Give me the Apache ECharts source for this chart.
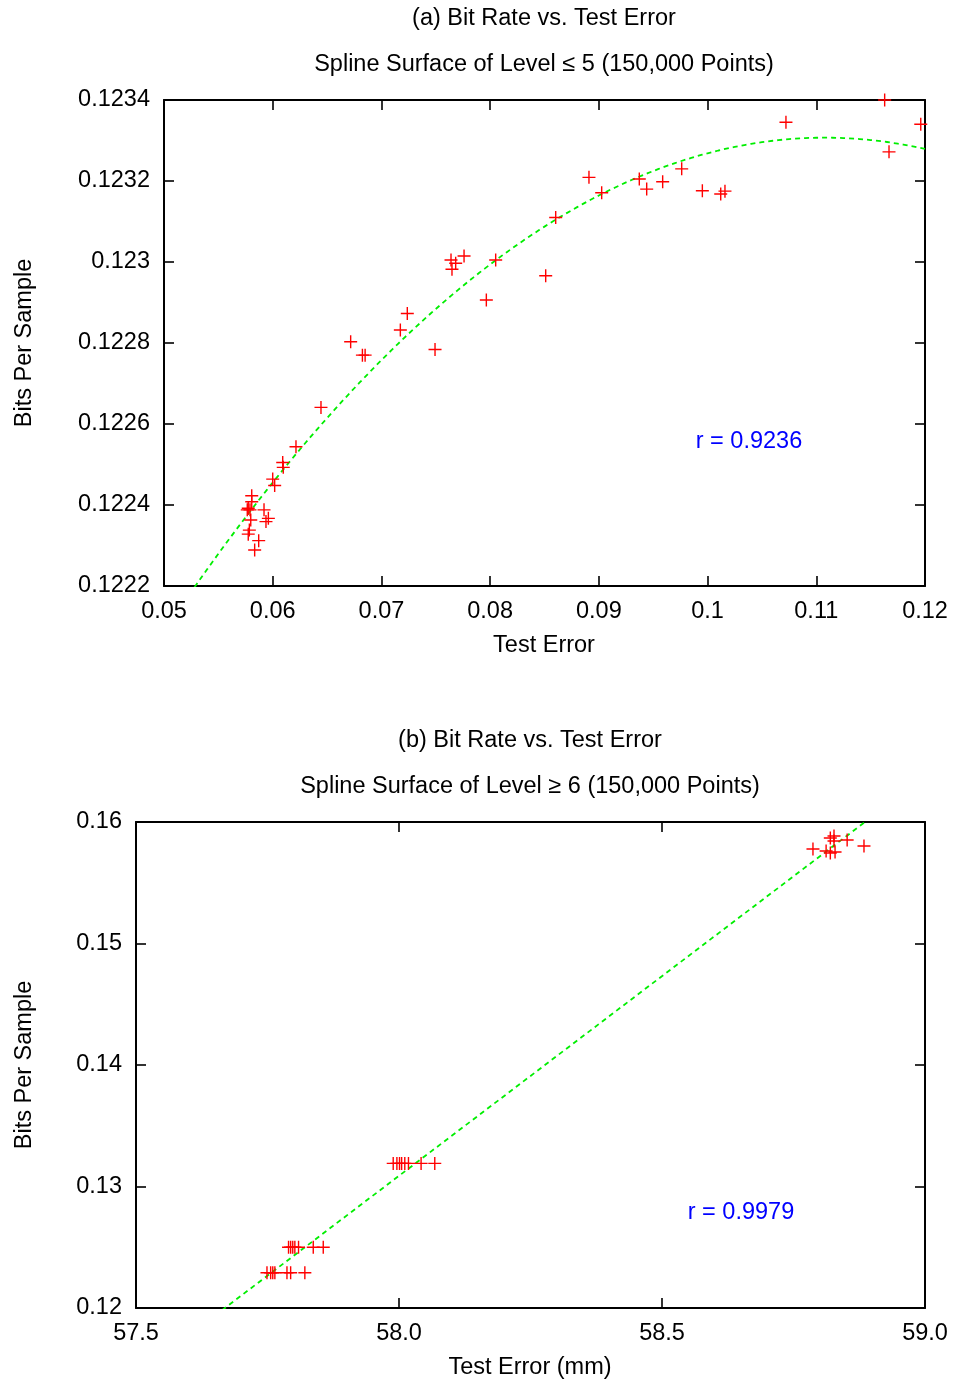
<!DOCTYPE html>
<html>
<head>
<meta charset="utf-8">
<script src="https://cdn.jsdelivr.net/npm/echarts@6/dist/echarts.min.js"></script>
<style>
  html, body { margin: 0; padding: 0; background: #fff; }
  #chart { width: 956px; height: 1381px; }
</style>
</head>
<body>
<div id="chart"></div>
<script>
// Panel (a): spline surfaces of level <= 5
const errA = [0.11629, 0.11961, 0.10721, 0.11669, 0.08909, 0.09026, 0.08603, 0.08511,
  0.09372, 0.09440, 0.09587, 0.09762, 0.09952, 0.10121, 0.10160,
  0.07640, 0.07683, 0.07649, 0.07760, 0.08051, 0.07965,
  0.07238, 0.07174, 0.07493, 0.06717, 0.06850, 0.06825,
  0.06444, 0.06214, 0.06092, 0.06097, 0.06000, 0.06018,
  0.05807, 0.05807, 0.05775, 0.05791, 0.05766, 0.05798, 0.05785, 0.05775,
  0.05920, 0.05960, 0.05938, 0.05871, 0.05834];
const bitsA = [0.12340, 0.12334, 0.123345, 0.123272, 0.123209, 0.123171, 0.123110, 0.122966,
  0.123205, 0.123180, 0.123198, 0.123230, 0.123176, 0.123168, 0.123175,
  0.123005, 0.122997, 0.122982, 0.123015, 0.123005, 0.122906,
  0.122873, 0.122832, 0.122784, 0.122803, 0.122770, 0.122770,
  0.122641, 0.122544, 0.122505, 0.122493, 0.122464, 0.122448,
  0.122423, 0.122408, 0.122392, 0.122388, 0.122388, 0.122363, 0.122338, 0.122328,
  0.122388, 0.122367, 0.122359, 0.122312, 0.122289];
// quadratic trend: bits = peak + curv * (err - vertex)^2
const fitA = { vertex: 0.1108, peak: 0.123307, curv: -0.33 };
const rA = 'r = 0.9236';

// Panel (b): spline surfaces of level >= 6
const errB = [58.787, 58.812, 58.820, 58.827, 58.827, 58.820, 58.829, 58.852, 58.884,
  57.989, 57.996, 58.001, 58.005, 58.011, 58.018, 58.042, 58.068,
  57.790, 57.794, 57.798, 57.802, 57.809, 57.837, 57.856,
  57.749, 57.756, 57.760, 57.764, 57.787, 57.794, 57.821];
const bitsB = [0.15778, 0.15761, 0.15868, 0.15885, 0.15844, 0.15745, 0.15753, 0.15852, 0.15802,
  0.1319, 0.1319, 0.1319, 0.1319, 0.1319, 0.1319, 0.1319, 0.1319,
  0.1250, 0.1250, 0.1250, 0.1250, 0.1250, 0.1250, 0.1250,
  0.1229, 0.1229, 0.1229, 0.1229, 0.1229, 0.1229, 0.1229];
// linear trend: bits = base + slope * (err - x0)
const fitB = { x0: 57.669, base: 0.12, slope: 0.03287 };
const rB = 'r = 0.9979';

const ticksA = { xMin: 0.05, xMax: 0.12, xStep: 0.01, yMin: 0.1222, yMax: 0.1234, yStep: 0.0002 };
const ticksB = { xMin: 57.5, xMax: 59.0, xStep: 0.5, yMin: 0.12, yMax: 0.16, yStep: 0.01 };

const FONT = '"Liberation Sans", Arial, sans-serif';
const FS = 23.5;

function trendA() {
  const pts = [];
  for (let i = 0; i <= 140; i++) {
    const x = ticksA.xMin + (ticksA.xMax - ticksA.xMin) * i / 140;
    pts.push([x, fitA.peak + fitA.curv * (x - fitA.vertex) * (x - fitA.vertex)]);
  }
  return pts;
}
function trendB() {
  return [ticksB.xMin, ticksB.xMax].map(x => [x, fitB.base + fitB.slope * (x - fitB.x0)]);
}

const plus = 'path://M0,5.8 L13,5.8 L13,7.2 L0,7.2 Z M5.8,0 L7.2,0 L7.2,13 L5.8,13 Z';

const grids = [
  { left: 164, right: 31, top: 100, height: 486 },
  { left: 136, right: 31, top: 822, height: 486 }
];

function fmtA(v) { return String(+v.toFixed(2)); }
function fmtAy(v) { return String(+v.toFixed(4)); }
function fmtB(v) { return v.toFixed(1); }
function fmtBy(v) { return String(+v.toFixed(2)); }

function mainAxis(gi, t, isX, fmt) {
  return {
    type: 'value', gridIndex: gi,
    position: isX ? 'bottom' : 'left',
    min: isX ? t.xMin : t.yMin, max: isX ? t.xMax : t.yMax,
    interval: isX ? t.xStep : t.yStep,
    axisLine: { show: true, onZero: false, lineStyle: { color: '#000', width: 2 } },
    axisTick: { show: true, inside: true, length: 10, lineStyle: { color: '#000', width: 1.6 } },
    axisLabel: {
      show: true, color: '#000', fontFamily: FONT, fontSize: FS,
      margin: isX ? 14 : 14, padding: isX ? 0 : [4, 0, 0, 0], formatter: fmt
    },
    splitLine: { show: false }
  };
}
function mirrorAxis(gi, t, isX) {
  return {
    type: 'value', gridIndex: gi,
    position: isX ? 'top' : 'right',
    min: isX ? t.xMin : t.yMin, max: isX ? t.xMax : t.yMax,
    interval: isX ? t.xStep : t.yStep,
    axisLine: { show: true, onZero: false, lineStyle: { color: '#000', width: 2 } },
    axisTick: { show: true, inside: true, length: 10, lineStyle: { color: '#000', width: 1.6 } },
    axisLabel: { show: false },
    splitLine: { show: false }
  };
}

function txt(text, x, y, fill, rot) {
  return {
    type: 'text', x: x, y: y, rotation: rot || 0,
    style: { text: text, fill: fill || '#000', font: FS + 'px ' + FONT, textAlign: 'center', textVerticalAlign: 'middle' }
  };
}

const option = {
  animation: false,
  backgroundColor: '#fff',
  grid: grids,
  xAxis: [
    mainAxis(0, ticksA, true, fmtA), mirrorAxis(0, ticksA, true),
    mainAxis(1, ticksB, true, fmtB), mirrorAxis(1, ticksB, true)
  ],
  yAxis: [
    mainAxis(0, ticksA, false, fmtAy), mirrorAxis(0, ticksA, false),
    mainAxis(1, ticksB, false, fmtBy), mirrorAxis(1, ticksB, false)
  ],
  series: [
    {
      type: 'line', xAxisIndex: 0, yAxisIndex: 0, data: trendA(),
      showSymbol: false, clip: true, silent: true,
      lineStyle: { color: '#00ee00', width: 1.8, type: [5, 4] }, z: 2
    },
    {
      type: 'scatter', xAxisIndex: 0, yAxisIndex: 0,
      data: errA.map((x, i) => [x, bitsA[i]]),
      symbol: plus, symbolSize: 13, itemStyle: { color: '#ff0000', opacity: 1 }, z: 3
    },
    {
      type: 'line', xAxisIndex: 2, yAxisIndex: 2, data: trendB(),
      showSymbol: false, clip: true, silent: true,
      lineStyle: { color: '#00ee00', width: 1.8, type: [5, 4] }, z: 2
    },
    {
      type: 'scatter', xAxisIndex: 2, yAxisIndex: 2,
      data: errB.map((x, i) => [x, bitsB[i]]),
      symbol: plus, symbolSize: 13, itemStyle: { color: '#ff0000', opacity: 1 }, z: 3
    }
  ],
  graphic: [
    txt('(a) Bit Rate vs. Test Error', 544, 19),
    txt('Spline Surface of Level \u2264 5 (150,000 Points)', 544, 65),
    txt('Test Error', 544, 646),
    txt('Bits Per Sample', 25, 343, null, Math.PI / 2),
    txt(rA, 749, 442, '#0000ff'),
    txt('(b) Bit Rate vs. Test Error', 530, 741),
    txt('Spline Surface of Level \u2265 6 (150,000 Points)', 530, 787),
    txt('Test Error (mm)', 530, 1368),
    txt('Bits Per Sample', 25, 1065, null, Math.PI / 2),
    txt(rB, 741, 1213, '#0000ff')
  ]
};

const chart = echarts.init(document.getElementById('chart'), null, { renderer: 'canvas' });
chart.setOption(option);
</script>
</body>
</html>
